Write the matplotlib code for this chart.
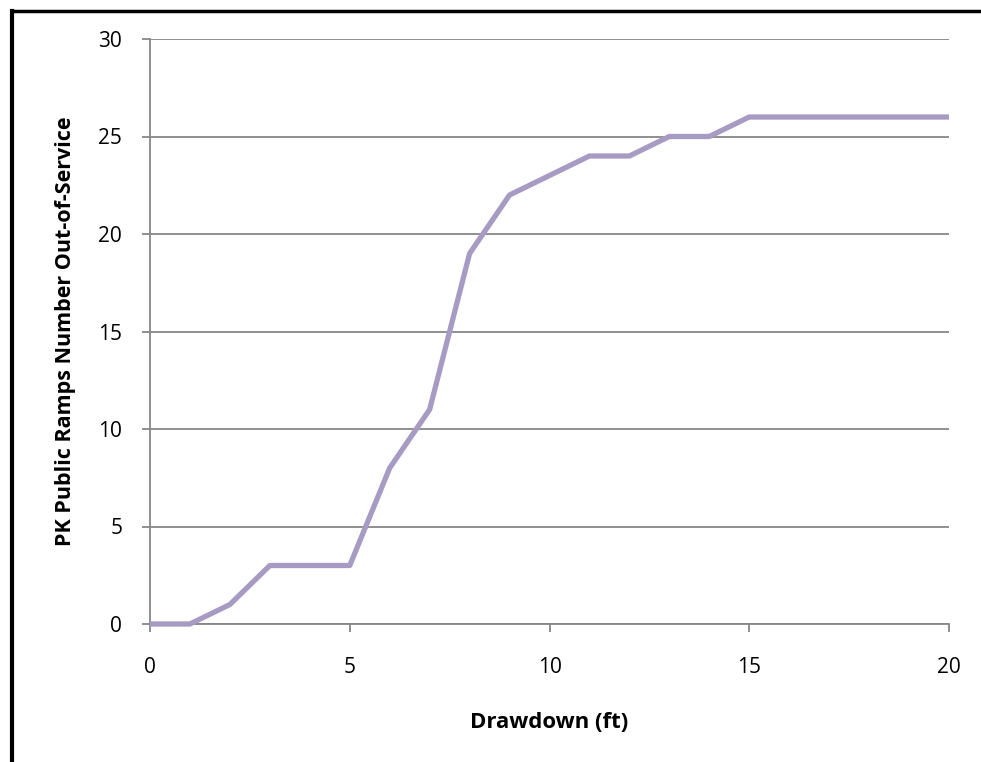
import matplotlib
matplotlib.use("Agg")
import matplotlib.pyplot as plt
from matplotlib.lines import Line2D

# Ramp closures as the reservoir is drawn down
drawdown_ft = [0, 1, 2, 3, 4, 5, 6, 7, 8, 9, 10, 11, 12, 13, 14, 15, 16, 17, 18, 19, 20]
ramps_out = [0, 0, 1, 3, 3, 3, 8, 11, 19, 22, 23, 24, 24, 25, 25, 26, 26, 26, 26, 26, 26]

x_ticks = [0, 5, 10, 15, 20]
y_ticks = [0, 5, 10, 15, 20, 25, 30]

plt.rcParams['font.family'] = ['Open Sans', 'DejaVu Sans']

W, H = 981, 762
fig = plt.figure(figsize=(W / 100, H / 100), dpi=100)
ax = fig.add_axes([150 / W, 1 - 624 / H, (949 - 150) / W, (624 - 39) / H])

grid_c = '#878787'
line_c = '#A79BC3'

ax.plot(drawdown_ft, ramps_out, color=line_c, lw=3.8, solid_capstyle='butt',
        solid_joinstyle='round', zorder=3, clip_on=False)

ax.set_xlim(0, 20)
ax.set_ylim(0, 30)
ax.set_xticks(x_ticks)
ax.set_yticks(y_ticks)
ax.yaxis.grid(True, color=grid_c, lw=1.3)
ax.set_axisbelow(True)

for s in ['top', 'right']:
    ax.spines[s].set_visible(False)
for s in ['left', 'bottom']:
    ax.spines[s].set_color(grid_c)
    ax.spines[s].set_linewidth(1.3)

ax.tick_params(axis='both', direction='out', length=6, width=1.3, color=grid_c,
               labelsize=15, labelcolor='black')
ax.tick_params(axis='x', pad=18)
ax.tick_params(axis='y', pad=14)

ax.set_xlabel('Drawdown (ft)', fontsize=16, fontweight='bold', labelpad=24)
ax.set_ylabel('PK Public Ramps Number Out-of-Service', fontsize=15.5,
              fontweight='bold', labelpad=16)

# Frame around the chart area (left and top edges)
fig.add_artist(Line2D([12 / W, 12 / W], [0, 1 - 11 / H], transform=fig.transFigure,
                      color='black', lw=3, solid_capstyle='projecting'))
fig.add_artist(Line2D([12 / W, 1], [1 - 11 / H, 1 - 11 / H], transform=fig.transFigure,
                      color='black', lw=2.5, solid_capstyle='projecting'))

fig.savefig('out.png', dpi=100)
